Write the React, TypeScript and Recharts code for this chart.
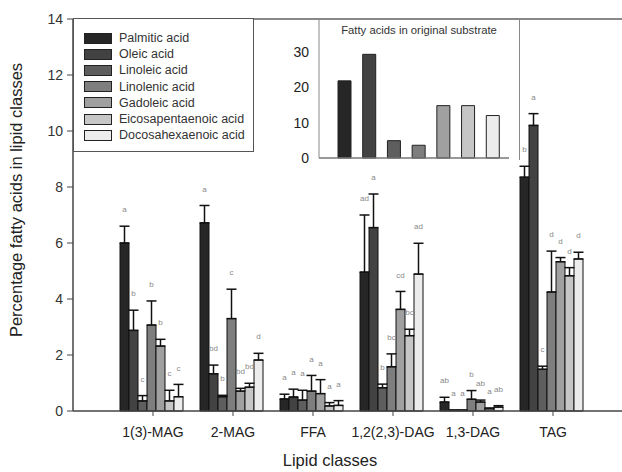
import React from 'react';
import { BarChart, Bar, XAxis, YAxis, ErrorBar, LabelList, ReferenceLine, Legend, Label, Cell } from 'recharts';

const categories = ['1(3)-MAG', '2-MAG', 'FFA', '1,2(2,3)-DAG', '1,3-DAG', 'TAG'];

const palmitic = [6.0, 6.72, 0.43, 4.96, 0.32, 8.35];
const palmiticErr = [0.6, 0.62, 0.17, 2.04, 0.17, 0.39];
const oleic = [2.88, 1.33, 0.5, 6.55, 0.03, 10.2];
const oleicErr = [0.72, 0.31, 0.28, 1.2, 0, 0.42];
const linoleic = [0.36, 0.51, 0.39, 0.83, 0.03, 1.49];
const linoleicErr = [0.19, 0.05, 0.35, 0.13, 0, 0.11];
const linolenic = [3.07, 3.3, 0.71, 1.58, 0.42, 4.25];
const linolenicErr = [0.86, 1.05, 0.56, 0.46, 0.31, 1.46];
const gadoleic = [2.32, 0.71, 0.62, 3.63, 0.32, 5.33];
const gadoleicErr = [0.24, 0.1, 0.5, 0.64, 0.07, 0.15];
const epa = [0.36, 0.85, 0.18, 2.69, 0.08, 4.83];
const epaErr = [0.38, 0.14, 0.12, 0.23, 0.03, 0.29];
const dha = [0.51, 1.82, 0.2, 4.89, 0.14, 5.43];
const dhaErr = [0.44, 0.24, 0.17, 1.1, 0.05, 0.24];

const palmiticLetters = ['a', 'a', 'a', 'ad', 'ab', 'b'];
const oleicLetters = ['b', 'bd', 'a', 'a', 'a', 'a'];
const linoleicLetters = ['c', 'b', 'a', 'b', 'a', 'c'];
const linolenicLetters = ['b', 'c', 'a', 'bc', 'b', 'd'];
const gadoleicLetters = ['b', 'bd', 'a', 'cd', 'ab', 'd'];
const epaLetters = ['c', 'bd', 'a', 'bc', 'a', 'd'];
const dhaLetters = ['c', 'd', 'a', 'ad', 'ab', 'd'];

const substrate = [21.8, 29.3, 4.9, 3.6, 14.8, 14.8, 12.0];

const series = [
  { key: 'palmitic', name: 'Palmitic acid', values: palmitic, errs: palmiticErr, letters: palmiticLetters, color: '#262626' },
  { key: 'oleic', name: 'Oleic acid', values: oleic, errs: oleicErr, letters: oleicLetters, color: '#424242' },
  { key: 'linoleic', name: 'Linoleic acid', values: linoleic, errs: linoleicErr, letters: linoleicLetters, color: '#5e5e5e' },
  { key: 'linolenic', name: 'Linolenic acid', values: linolenic, errs: linolenicErr, letters: linolenicLetters, color: '#7e7e7e' },
  { key: 'gadoleic', name: 'Gadoleic acid', values: gadoleic, errs: gadoleicErr, letters: gadoleicLetters, color: '#a0a0a0' },
  { key: 'epa', name: 'Eicosapentaenoic acid', values: epa, errs: epaErr, letters: epaLetters, color: '#c6c6c6' },
  { key: 'dha', name: 'Docosahexaenoic acid', values: dha, errs: dhaErr, letters: dhaLetters, color: '#ececec' },
];

const data = categories.map((cat, i) => {
  const row: any = { cat };
  series.forEach((s) => {
    row[s.key] = s.values[i];
    row[s.key + 'Err'] = [0, s.errs[i]];
    row[s.key + 'Letter'] = s.letters[i];
  });
  return row;
});

const insetData = series.map((s, i) => ({ name: s.name, value: substrate[i], color: s.color }));

const FONT = '"Liberation Sans", Arial, sans-serif';

const letterContent = (s: any) => (props: any) => {
  const { x, y, width, height, index, value } = props;
  const v = s.values[index];
  const perUnit = v > 0 ? height / v : 0;
  const top = y - s.errs[index] * perUnit - 16;
  return (
    <text x={x + width / 2} y={top} textAnchor="middle" dominantBaseline="middle" fontSize={8} fill="#888" fontFamily={FONT}>
      {value}
    </text>
  );
};

const renderLegend = () => (
  <div style={{ width: 181, height: 134, border: '1px solid #555', background: '#fff', boxSizing: 'border-box', paddingTop: 11 }}>
    {series.map((s) => (
      <div key={s.key} style={{ display: 'flex', alignItems: 'center', height: 16.2, paddingLeft: 10 }}>
        <div style={{ width: 28, height: 11, background: s.color, border: '1px solid #222', boxSizing: 'border-box' }} />
        <span style={{ marginLeft: 7, fontSize: 12.5, fontFamily: FONT, color: '#333' }}>{s.name}</span>
      </div>
    ))}
  </div>
);

export default function App() {
  return (
    <div style={{ position: 'absolute', left: 0, top: 0, width: 622, height: 472, overflow: 'hidden', background: '#fff' }}>
      <BarChart
        width={660}
        height={472}
        data={data}
        margin={{ top: 19, right: 27, bottom: 0, left: 0 }}
        barCategoryGap={7}
        barGap={0}
      >
        <ReferenceLine y={14} stroke="#888" strokeWidth={2} />
        <XAxis
          dataKey="cat"
          height={61}
          padding={{ left: 40, right: 40 }}
          axisLine={{ stroke: '#444', strokeWidth: 1.5 }}
          tickLine={{ stroke: '#444' }}
          tickSize={5}
          tickMargin={11}
          interval={0}
          tick={{ fontSize: 14, fontFamily: FONT, fill: '#222' }}
        >
          <Label
            content={(p: any) => (
              <text x={330} y={p.viewBox.y + 51} textAnchor="middle" dominantBaseline="middle" fontSize={16.5} fontFamily={FONT} fill="#222">
                Lipid classes
              </text>
            )}
          />
        </XAxis>
        <YAxis
          width={73}
          domain={[0, 14]}
          ticks={[0, 2, 4, 6, 8, 10, 12, 14]}
          interval={0}
          axisLine={{ stroke: '#444', strokeWidth: 1.5 }}
          tickLine={{ stroke: '#444' }}
          tickSize={6}
          tickMargin={4}
          tick={{ fontSize: 14, fontFamily: FONT, fill: '#333' }}
        >
          <Label
            content={(p: any) => {
              const cx = 18;
              const cy = p.viewBox.y + p.viewBox.height / 2 - 15;
              return (
                <text x={cx} y={cy} transform={`rotate(-90 ${cx} ${cy})`} textAnchor="middle" dominantBaseline="middle" fontSize={16.5} fontFamily={FONT} fill="#222">
                  Percentage fatty acids in lipid classes
                </text>
              );
            }}
          />
        </YAxis>
        <Legend
          layout="vertical"
          align="center"
          verticalAlign="middle"
          content={renderLegend}
          wrapperStyle={{ left: 73, top: 18, width: 181, height: 134 }}
        />
        {series.map((s) => (
          <Bar key={s.key} dataKey={s.key} name={s.name} fill={s.color} stroke="#111" strokeWidth={1} isAnimationActive={false}>
            <ErrorBar dataKey={s.key + 'Err'} width={5} stroke="#111" strokeWidth={1.5} isAnimationActive={false} />
            <LabelList dataKey={s.key + 'Letter'} content={letterContent(s)} />
          </Bar>
        ))}
      </BarChart>

      <div style={{ position: 'absolute', left: 270, top: 18, width: 250, height: 142 }}>
        <div
          style={{
            position: 'absolute',
            left: 49,
            top: 0,
            width: 201,
            height: 142,
            background: '#fff',
            borderTop: '2px solid #888',
            borderRight: '1px solid #888',
            boxSizing: 'border-box',
          }}
        />
        <div style={{ position: 'absolute', left: 49, width: 200, top: 6, textAlign: 'center', fontSize: 11.3, fontFamily: FONT, color: '#333' }}>
          Fatty acids in original substrate
        </div>
        <div style={{ position: 'absolute', left: 0, top: 0 }}>
          <BarChart width={250} height={150} data={insetData} margin={{ top: 2, right: 11, bottom: 0, left: 0 }}>
            <XAxis dataKey="name" height={10} tick={false} tickLine={false} padding={{ left: 13, right: 4 }} axisLine={{ stroke: '#777', strokeWidth: 1.5 }} />
            <YAxis
              width={49}
              domain={[0, 39]}
              ticks={[0, 10, 20, 30]}
              interval={0}
              tickLine={false}
              tickMargin={4}
              axisLine={{ stroke: '#888', strokeWidth: 1 }}
              tick={{ fontSize: 14, fontFamily: FONT, fill: '#222' }}
            />
            <Bar dataKey="value" barSize={13} stroke="#222" strokeWidth={1} isAnimationActive={false}>
              {insetData.map((d, i) => (
                <Cell key={i} fill={d.color} />
              ))}
            </Bar>
          </BarChart>
        </div>
      </div>
    </div>
  );
}
